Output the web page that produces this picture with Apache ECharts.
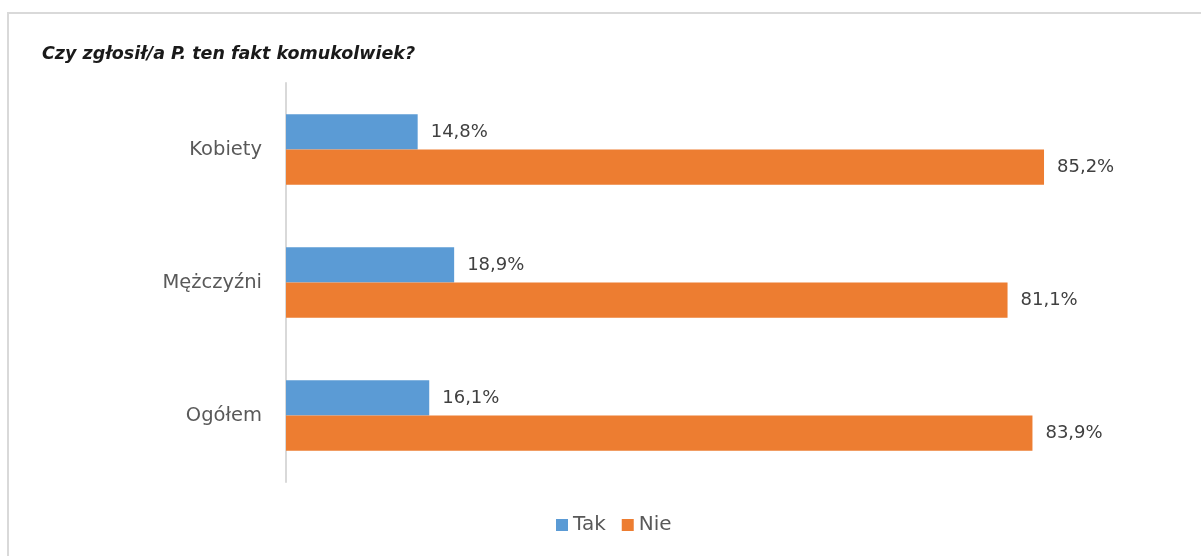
<!DOCTYPE html>
<html><head><meta charset="utf-8">
<script src="https://cdn.jsdelivr.net/npm/echarts@6/dist/echarts.min.js"></script>
<style>html,body{margin:0;padding:0;background:#fff}#c{width:1201px;height:556px}</style>
</head><body><div id="c"></div>
<script>
var categories = ['Kobiety', 'Mężczyźni', 'Ogółem'];
var seriesNames = ['Tak', 'Nie'];
var takValues = [14.8, 18.9, 16.1];
var nieValues = [85.2, 81.1, 83.9];
var titleText = 'Czy zgłosił/a P. ten fakt komukolwiek?';

var chart = echarts.init(document.getElementById('c'));
var fontFam = '"DejaVu Sans", sans-serif';
function fmt(p){ return p.value.toFixed(1).replace('.', ',') + '%'; }
var labelStyle = {show:true, position:'right', distance:13, formatter:fmt, color:'#404040', fontSize:18, fontFamily:fontFam};
chart.setOption({
  animation:false,
  backgroundColor:'#fff',
  graphic:[{type:'rect', shape:{x:8, y:13, width:1300, height:700}, style:{fill:'none', stroke:'#d9d9d9', lineWidth:2}, silent:true, z:-1}],
  title:{text:titleText, left:37, top:40, textStyle:{fontSize:17.5, fontStyle:'italic', fontWeight:'bold', color:'#1a1a1a', fontFamily:fontFam}},
  legend:{data:seriesNames, top:510, left:551, itemWidth:12, itemHeight:12, itemGap:16, icon:'rect',
    textStyle:{fontSize:20, color:'#595959', fontFamily:fontFam}},
  grid:{left:286, top:83, width:889.7, height:399, containLabel:false},
  xAxis:{type:'value', min:0, max:100, show:false},
  yAxis:{type:'category', data:categories, inverse:true,
    axisLine:{lineStyle:{color:'#d9d9d9', width:2}}, axisTick:{show:false},
    axisLabel:{fontSize:19.5, color:'#595959', margin:24, fontFamily:fontFam}},
  series:[
    {name:seriesNames[0], type:'bar', data:takValues, itemStyle:{color:'#5B9BD5'}, barGap:'0%', barCategoryGap:'47%', label:labelStyle},
    {name:seriesNames[1], type:'bar', data:nieValues, itemStyle:{color:'#ED7D31'}, barGap:'0%', barCategoryGap:'47%', label:labelStyle}
  ]
});
</script></body></html>
